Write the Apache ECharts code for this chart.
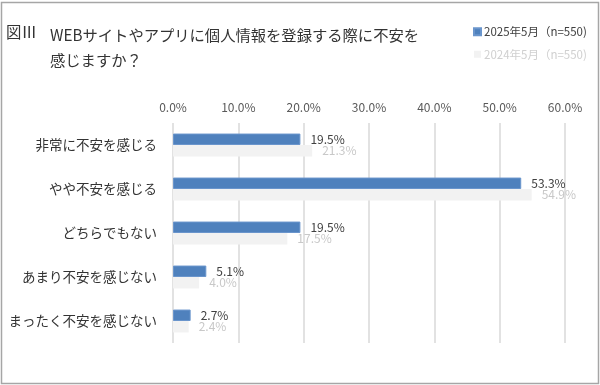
<!DOCTYPE html>
<html>
<head>
<meta charset="utf-8">
<script src="https://cdn.jsdelivr.net/npm/echarts@6/dist/echarts.min.js"></script>
<style>
html,body{margin:0;padding:0;background:#fff;}
#c{width:600px;height:385px;}
</style>
</head>
<body>
<div id="c"></div>
<script>
var categories = ['非常に不安を感じる', 'やや不安を感じる', 'どちらでもない', 'あまり不安を感じない', 'まったく不安を感じない'];
var values2025 = [19.5, 53.3, 19.5, 5.1, 2.7];
var values2024 = [21.3, 54.9, 17.5, 4.0, 2.4];
var seriesNames = ['2025年5月（n=550)', '2024年5月（n=550)'];
var xTicks = [0, 10, 20, 30, 40, 50, 60];

var FONT = '"Noto Sans CJK JP", "Noto Sans", sans-serif';
var chart = echarts.init(document.getElementById('c'), null, {renderer: 'canvas'});
chart.setOption({
  backgroundColor: '#fff',
  textStyle: {fontFamily: FONT},
  animation: false,
  graphic: [
    {type: 'rect', shape: {x: 1.5, y: 2.5, width: 597, height: 381}, style: {fill: 'none', stroke: '#a6a6a6', lineWidth: 1.5}},
    {type: 'text', left: 6, top: 24, style: {text: '図Ⅲ', font: '15.4px ' + FONT, fill: '#333'}},
    {type: 'text', left: 50, top: 23, style: {text: 'WEBサイトやアプリに個人情報を登録する際に不安を\n感じますか？', font: '15.3px ' + FONT, fill: '#333', lineHeight: 25}}
  ],
  legend: {
    orient: 'vertical',
    left: 468,
    top: 21,
    itemWidth: 7,
    itemHeight: 7,
    itemGap: 11,
    icon: 'rect',
    data: [
      {name: seriesNames[0], textStyle: {color: '#404040'}},
      {name: seriesNames[1], textStyle: {color: '#d0d0d0'}}
    ],
    textStyle: {fontSize: 11.5, fontFamily: FONT, padding: [0, 0, 0, -2]}
  },
  grid: {left: 173, right: 35, top: 123, bottom: 42, containLabel: false},
  xAxis: {
    type: 'value',
    position: 'top',
    min: 0,
    max: 60,
    interval: 10,
    axisLine: {show: false},
    axisTick: {show: false},
    axisLabel: {
      color: '#595959', fontSize: 12, margin: 10, fontFamily: FONT,
      formatter: function (v) { return xTicks.indexOf(v) >= 0 ? v.toFixed(1) + '%' : ''; }
    },
    splitLine: {show: true, lineStyle: {color: '#d9d9d9', width: 1.5}}
  },
  yAxis: {
    type: 'category',
    inverse: true,
    data: categories,
    axisLine: {show: false},
    axisTick: {show: false},
    axisLabel: {color: '#333', fontSize: 13.5, margin: 16, fontFamily: FONT}
  },
  series: [
    {
      name: seriesNames[0],
      type: 'bar',
      data: values2025,
      barGap: '0%',
      barCategoryGap: '48%',
      itemStyle: {color: '#4F81BD', borderColor: '#6a95cc', borderWidth: 1},
      label: {show: true, position: 'right', distance: 10, color: '#404040', fontSize: 12, fontFamily: FONT,
        formatter: function (p) { return p.value.toFixed(1) + '%'; }}
    },
    {
      name: seriesNames[1],
      type: 'bar',
      data: values2024,
      barGap: '0%',
      barCategoryGap: '48%',
      itemStyle: {color: '#F2F2F2'},
      label: {show: true, position: 'right', distance: 10, color: '#c8c8c8', fontSize: 12, fontFamily: FONT,
        formatter: function (p) { return p.value.toFixed(1) + '%'; }}
    }
  ]
});
</script>
</body>
</html>
